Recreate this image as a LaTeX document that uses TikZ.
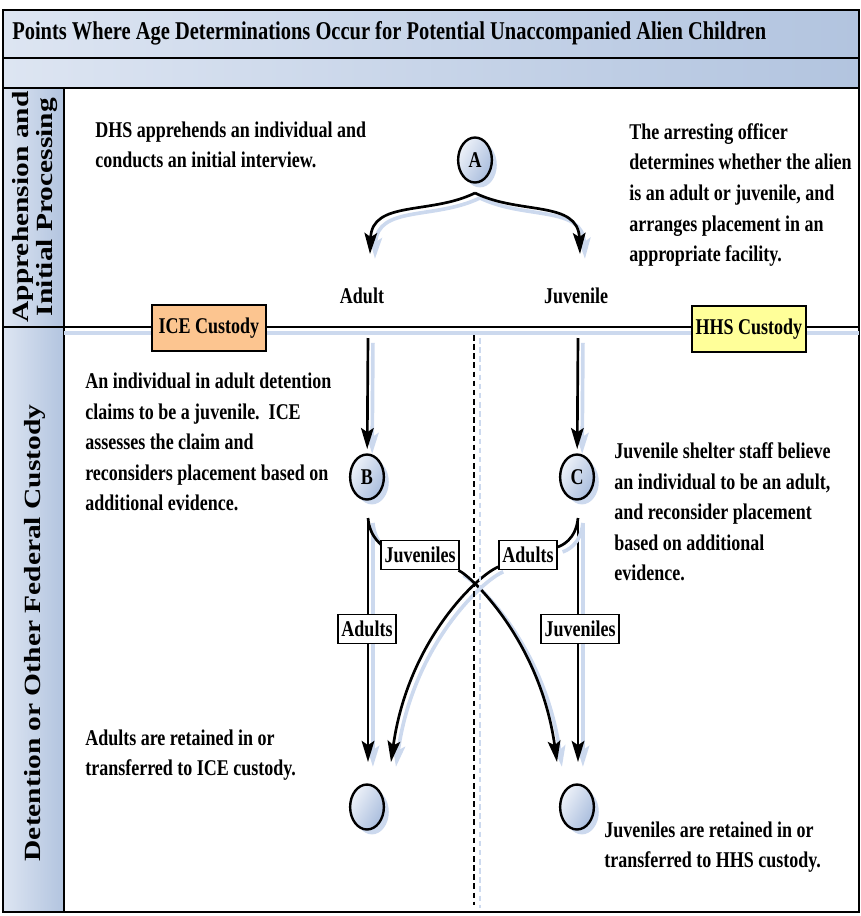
\documentclass[tikz,border=0pt]{standalone}
\usepackage{fontspec}
\setmainfont{Liberation Serif}[FakeStretch=0.8]
\newfontfamily\lanefont{Liberation Serif}[FakeStretch=1.27]
\usetikzlibrary{arrows.meta,shapes.geometric,shadows}
\definecolor{bandlight}{HTML}{DDE5F2}
\definecolor{banddark}{HTML}{B2C4DF}
\definecolor{shadowblue}{HTML}{CCD9EE}
\definecolor{pointlight}{HTML}{EEF2F9}
\definecolor{pointdark}{HTML}{A9BDDD}
\definecolor{icefill}{HTML}{FCC590}
\definecolor{hhsfill}{HTML}{FFFF99}
\pgfdeclarelayer{bg}
\pgfsetlayers{bg,main}
\tikzset{
    every node/.style={inner sep=0pt, font=\bfseries\fontsize{16}{21.7}\selectfont}
}
\tikzset{
    frame/.style={line width=2pt},
    point/.style={ellipse, draw, line width=1.7pt, minimum width=24pt, minimum height=32pt,
        left color=pointlight, right color=pointdark, shading angle=60,
        drop shadow={shadow xshift=3.5pt, shadow yshift=-3.5pt, fill=shadowblue, opacity=1}},
    custody/.style={draw, line width=1.4pt, minimum width=81pt, minimum height=33pt},
    tag/.style={draw, fill=white, line width=0.9pt, inner xsep=2.5pt, minimum height=21pt},
    note/.style={anchor=west, align=left},
    lane/.style={rotate=90, align=center, font=\lanefont\bfseries\fontsize{16.5}{16.5}\selectfont},
    title/.style={anchor=west, font=\bfseries\fontsize{18.2}{20}\selectfont},
    flowline/.style={line width=1.9pt,
        preaction={draw=shadowblue, line width=2.6pt, transform canvas={shift={(3.5pt,-3.5pt)}}}},
    flow/.style={flowline, -{Stealth[length=15pt, width=9pt, inset=3pt]}},
    divide/.style={line width=1.5pt, dash pattern=on 4pt off 2.5pt}
}

\begin{document}
\begin{tikzpicture}[x=0.025cm, y=-0.025cm]
        \useasboundingbox (0,0) rectangle (861,916);
        \begin{pgfonlayer}{bg}
                \shade[left color=bandlight, right color=banddark] (3,10) rectangle (859,58);
                \shade[left color=bandlight, right color=banddark] (3,58) rectangle (859,88);
                \shade[left color=bandlight, right color=banddark] (3,88) rectangle (64,912);
        \end{pgfonlayer}
        % frame and lanes
        \draw[frame] (3,10) rectangle (859,912);
        \draw[frame] (3,58) -- (859,58);
        \draw[frame] (3,88) -- (859,88);
        \draw[frame] (64,88) -- (64,912);
        \draw[shadowblue, line width=2.4pt] (64,333) -- (859,333);
        \draw[frame] (3,327) -- (859,327);
        \draw[divide, shadowblue] (480,338) -- (480,908);
        \draw[divide] (474,335) -- (474,905);
        \node (title) [title] at (12,33) {Points Where Age Determinations Occur for Potential Unaccompanied Alien Children};
        \node (lane1) [lane] at (35,207) {Apprehension and\\Initial Processing};
        \node (lane2) [lane] at (35,633) {Detention or Other Federal Custody};
        \node (ice) [custody, fill=icefill] at (209,328) {ICE Custody};
        \node (hhs) [custody, fill=hhsfill] at (749,329) {HHS Custody};
        \node (A) [point] at (475,160) {A};
        \node (B) [point] at (367,477) {B};
        \node (C) [point] at (577,477) {C};
        \node (iceend) [point] at (367,807) {};
        \node (hhsend) [point] at (577,807) {};
        \node (adult) at (362,296) {Adult};
        \node (juvenile) at (576,296) {Juvenile};
        \node (jtag) [tag] at (420,555) {Juveniles};
        \node (atag) [tag] at (528,555) {Adults};
        \node (adulttag) [tag] at (367,629) {Adults};
        \node (juvtag) [tag] at (580,629) {Juveniles};
        \node (dhs) [note] at (95,145) {DHS apprehends an individual and\\conducts an initial interview.};
        \node (officer) [note] at (629,195) {The arresting officer\\determines whether the alien\\is an adult or juvenile, and\\arranges placement in an\\appropriate facility.};
        \node (claim) [note] at (85,442) {An individual in adult detention\\claims to be a juvenile.\ \ ICE\\assesses the claim and\\reconsiders placement based on\\additional evidence.};
        \node (shelter) [note] at (614,512) {Juvenile shelter staff believe\\an individual to be an adult,\\and reconsider placement\\based on additional\\evidence.};
        \node (iceret) [note] at (85,755) {Adults are retained in or\\transferred to ICE custody.};
        \node (hhsret) [note] at (604,847) {Juveniles are retained in or\\transferred to HHS custody.};
        \coordinate (split) at (475,193);
        \coordinate (adultin) at (370,254);
        \coordinate (juvin) at (580,254);
        \coordinate (Bin) at (368,338);
        \coordinate (Cin) at (578,338);
        \coordinate (Bout) at (368,518);
        \coordinate (Cout) at (578,518);
        \coordinate (iceA) at (368,762);
        \coordinate (iceJ) at (391,762);
        \coordinate (hhsJ) at (578,762);
        \coordinate (hhsA) at (557,762);
        \begin{pgfonlayer}{bg}
                \draw[flow] (split) .. controls (430,215) and (372,200) .. (adultin);
                \draw[flow] (split) .. controls (520,215) and (578,200) .. (juvin);
                \draw[flow, shorten >=3pt] (Bin) -- (B);
                \draw[flow, shorten >=3pt] (Cin) -- (C);
                \draw[flow] (Bout) -- (iceA);
                \draw[flow] (Cout) -- (hhsJ);
                \draw[flowline] (Bout) .. controls (370,540) and (385,546) .. (jtag);
                \draw[flow] (jtag) .. controls (470,575) and (540,640) .. (hhsA);
                \draw[flowline] (Cout) .. controls (576,540) and (561,546) .. (atag);
                \draw[flow] (atag) .. controls (478,575) and (408,640) .. (iceJ);
        \end{pgfonlayer}
\end{tikzpicture}
\end{document}
